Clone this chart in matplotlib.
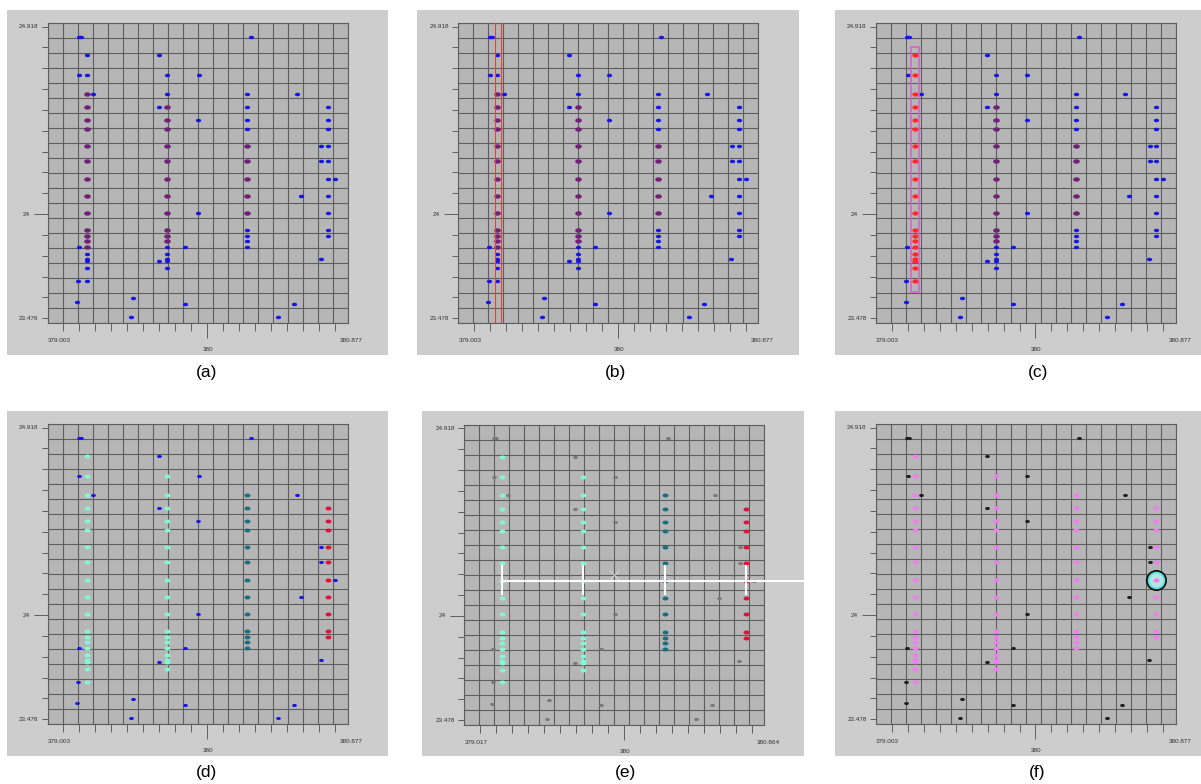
"""Six-panel figure: stacked detections on a lon/lat grid, clustered step by step (a)-(f)."""
import numpy as np
import matplotlib

matplotlib.use("Agg")
import matplotlib.pyplot as plt
from matplotlib.patches import Rectangle
from matplotlib.path import Path
from matplotlib.transforms import Affine2D

W, H = 1201, 784

# ---------------------------------------------------------------- data
# x position of the four vertical columns of detections
COL_X = [379.164, 379.720, 380.272, 380.829]

# y values of the points in each column
C1_Y = [24.778, 24.678, 24.587, 24.521, 24.457, 24.411, 24.330, 24.255, 24.164, 24.082,
        24.000, 23.912, 23.885, 23.858, 23.830, 23.796, 23.770, 23.760, 23.725, 23.664]
C2_Y = [24.678, 24.587, 24.521, 24.457, 24.411, 24.330, 24.255, 24.164, 24.082, 24.000,
        23.912, 23.885, 23.858, 23.830, 23.796, 23.770, 23.760, 23.725]
C3_Y = [24.587, 24.521, 24.457, 24.411, 24.330, 24.255, 24.164, 24.082, 24.000,
        23.912, 23.885, 23.858, 23.830]
C4_Y = [24.521, 24.457, 24.411, 24.330, 24.255, 24.164, 24.082, 24.000, 23.912, 23.885]

# y-range of each column that shows up purple (overlapping hits) in (a)-(c)
CORE_LO = [23.830, 23.858, 24.000, None]
CORE_HI = [24.587, 24.521, 24.330, None]

# scattered detections that belong to no column
OUT_X = [379.111, 379.125, 379.113, 379.208, 379.109, 379.104, 379.100, 379.486, 379.472,
         379.661, 379.937, 379.661, 379.934, 379.934, 379.840, 379.661, 379.840,
         380.295, 380.613, 380.640, 380.486, 380.592,
         380.783, 380.783, 380.877, 380.778]
OUT_Y = [24.869, 24.869, 24.678, 24.587, 23.830, 23.664, 23.559, 23.577, 23.485,
         24.778, 24.678, 24.521, 24.457, 24.000, 23.830, 23.761, 23.550,
         24.869, 24.587, 24.082, 23.485, 23.550,
         24.330, 24.255, 24.164, 23.769]

# axis end labels
Y_LO, Y_HI, Y_MID_LABEL = 23.478, 24.918, "24"
X_RANGE = {"a": (379.003, 380.877), "b": (379.003, 380.877), "c": (379.003, 380.877),
           "d": (379.003, 380.877), "e": (379.017, 380.864), "f": (379.003, 380.877)}

# (b) search strip, (c) selected box, (e) linking bars, (f) picked point
STRIP_X = [379.148, 379.192]
BOX_X, BOX_Y = (379.134, 379.194), (23.610, 24.816)
LINK_Y, LINK_BAR = 24.164, (24.098, 24.240)
CROSS_XY = (379.926, 24.192)
PICK_XY = (380.829, 24.164)

# ---------------------------------------------------------------- style
BG = "#cdcdcd"
PLOT_BG = "#b6b6b6"
GRID = "#5e5e5e"
BLUE = "#1515e6"
PURPLE = "#72207a"
RED = "#ff2b2b"
AQUA = "#84f7d4"
TEAL = "#1d6f80"
CRIMSON = "#dc1438"
GRAY = "#787878"
BLACK = "#1e1e1e"
VIOLET = "#f27cf2"
FONT = "Liberation Sans"

DOT = Affine2D().scale(1.5, 1.0).transform_path(Path.unit_circle())

# panel layout in pixels: plot (left, top), background (left, top, w, h), label centre
LAYOUT = {
    "a": ((47.7, 23.3), (6.7, 10, 381.6, 345), (206.7, 373)),
    "b": ((458.3, 23.3), (417.3, 10, 381.7, 345), (615.7, 373)),
    "c": ((876.0, 23.3), (835.0, 10, 366.0, 345), (1038.0, 373)),
    "d": ((47.7, 424.3), (6.7, 411, 381.6, 345), (206.7, 773)),
    "e": ((464.3, 425.0), (422.3, 411, 381.7, 345), (625.0, 773)),
    "f": ((876.0, 424.3), (835.0, 411, 366.0, 345), (1036.7, 773)),
}
PLOT_PX = 300


def setup_axes(fig, key):
    (left, top), (bx, by, bw, bh), (lx, ly) = LAYOUT[key]
    fig.add_artist(Rectangle((bx / W, 1 - (by + bh) / H), bw / W, bh / H,
                             transform=fig.transFigure, facecolor=BG, edgecolor="none", zorder=0))
    fig.text(lx / W, 1 - ly / H, f"({key})", ha="center", va="center", fontsize=12.5, family=FONT)

    ax = fig.add_axes([left / W, 1 - (top + PLOT_PX) / H, PLOT_PX / W, PLOT_PX / H])
    ax.set_facecolor(PLOT_BG)
    g = np.linspace(0, 1, 21)
    ax.vlines(g, 0, 1, transform=ax.transAxes, colors=GRID, lw=0.8, zorder=1)
    ax.hlines(g, 0, 1, transform=ax.transAxes, colors=GRID, lw=0.8, zorder=1)

    x0, x1 = X_RANGE[key]
    xs, ys = x1 - x0, Y_HI - Y_LO
    ax.set_xlim(x0 - xs * 47 / 815, x1 + xs * 38 / 815)
    ax.set_ylim(Y_LO - ys * 15 / 875, Y_HI + ys * 10 / 875)

    xt = np.linspace(x0, x1, 18)
    yt = np.linspace(Y_LO, Y_HI, 15)
    ax.set_xticks([xt[9]])
    ax.set_xticks(xt, minor=True)
    ax.set_yticks([yt[5]])
    ax.set_yticks(yt, minor=True)
    ax.tick_params(which="both", direction="out", color=GRID, width=0.7,
                   labelbottom=False, labelleft=False)
    ax.tick_params(axis="x", which="major", length=10.8)
    ax.tick_params(axis="x", which="minor", length=6)
    ax.tick_params(axis="y", which="major", length=10)
    ax.tick_params(axis="y", which="minor", length=4.5)
    for s in ax.spines.values():
        s.set_color(GRID)
        s.set_linewidth(0.8)

    kw = dict(fontsize=4.6, family=FONT, color="#333333")
    ax.text(0.039, -0.058, f"{x0:.3f}", transform=ax.transAxes, ha="center", va="center", **kw)
    ax.text(0.535, -0.087, "380", transform=ax.transAxes, ha="center", va="center", **kw)
    ax.text(1.013, -0.058, f"{x1:.3f}", transform=ax.transAxes, ha="center", va="center", **kw)
    yt_tr = ax.get_yaxis_transform()
    ax.text(-0.031, Y_HI, f"{Y_HI:.3f}", transform=yt_tr, ha="right", va="center", **kw)
    ax.text(-0.061, yt[5], Y_MID_LABEL, transform=yt_tr, ha="right", va="center", **kw)
    ax.text(-0.031, Y_LO, f"{Y_LO:.3f}", transform=yt_tr, ha="right", va="center", **kw)
    return ax


def dots(ax, x, y, color, ms=3.8, z=3):
    ax.plot(x, y, ls="none", marker=DOT, ms=ms, color=color, mew=0, zorder=z)


def columns():
    return [C1_Y, C2_Y, C3_Y, C4_Y]


def draw_raw(ax, first_col=None):
    """(a)-(c): every hit blue, overlapping hits purple."""
    dots(ax, OUT_X, OUT_Y, BLUE)
    for i, (cx, cy) in enumerate(zip(COL_X, columns())):
        cy = np.array(cy)
        if i == 0 and first_col is not None:
            dots(ax, np.full(len(cy), cx), cy, first_col, ms=4.6)
            continue
        if CORE_LO[i] is None:
            dots(ax, np.full(len(cy), cx), cy, BLUE)
            continue
        core = (cy >= CORE_LO[i] - 1e-6) & (cy <= CORE_HI[i] + 1e-6)
        dots(ax, np.full((~core).sum(), cx), cy[~core], BLUE)
        dots(ax, np.full(core.sum(), cx), cy[core], PURPLE, ms=4.8)


def draw_clustered(ax, out_color, col_colors):
    dots(ax, OUT_X, OUT_Y, out_color, ms=3.4)
    for cx, cy, c in zip(COL_X, columns(), col_colors):
        dots(ax, np.full(len(cy), cx), cy, c, ms=4.3)


def main():
    fig = plt.figure(figsize=(W / 100, H / 100), dpi=100)
    fig.patch.set_facecolor("white")

    ax = setup_axes(fig, "a")
    draw_raw(ax)

    ax = setup_axes(fig, "b")
    draw_raw(ax)
    for x in STRIP_X:
        ax.axvline(x, color="#e8403a", lw=0.8, zorder=4)

    ax = setup_axes(fig, "c")
    draw_raw(ax, first_col=RED)
    ax.add_patch(Rectangle((BOX_X[0], BOX_Y[0]), BOX_X[1] - BOX_X[0], BOX_Y[1] - BOX_Y[0],
                           facecolor="none", edgecolor="#e05ad2", lw=1.1, zorder=5))

    ax = setup_axes(fig, "d")
    draw_clustered(ax, BLUE, [AQUA, AQUA, TEAL, CRIMSON])

    ax = setup_axes(fig, "e")
    draw_clustered(ax, GRAY, [AQUA, AQUA, TEAL, CRIMSON])
    xl = ax.get_xlim()
    x_end = xl[1] + (xl[1] - xl[0]) * 44 / 300
    ax.plot([COL_X[0], x_end], [LINK_Y, LINK_Y], color="white", lw=1.5, zorder=6, clip_on=False)
    for cx in COL_X:
        ax.plot([cx, cx], LINK_BAR, color="white", lw=1.5, zorder=6)
    ax.plot(*CROSS_XY, marker="x", ms=7, mew=0.6, color="#dedede", zorder=6)

    ax = setup_axes(fig, "f")
    draw_clustered(ax, BLACK, [VIOLET] * 4)
    ax.plot(*PICK_XY, marker="o", ms=13.5, mfc="#b9e3e3", mec="#111111", mew=1.7, zorder=6)
    ax.plot(*PICK_XY, marker="o", ms=11.2, mfc="none", mec="#55e6e0", mew=1.4, zorder=7)
    dots(ax, [PICK_XY[0]], [PICK_XY[1]], VIOLET, ms=4.3, z=8)

    fig.savefig("out.png", dpi=100, facecolor="white")


if __name__ == "__main__":
    main()
